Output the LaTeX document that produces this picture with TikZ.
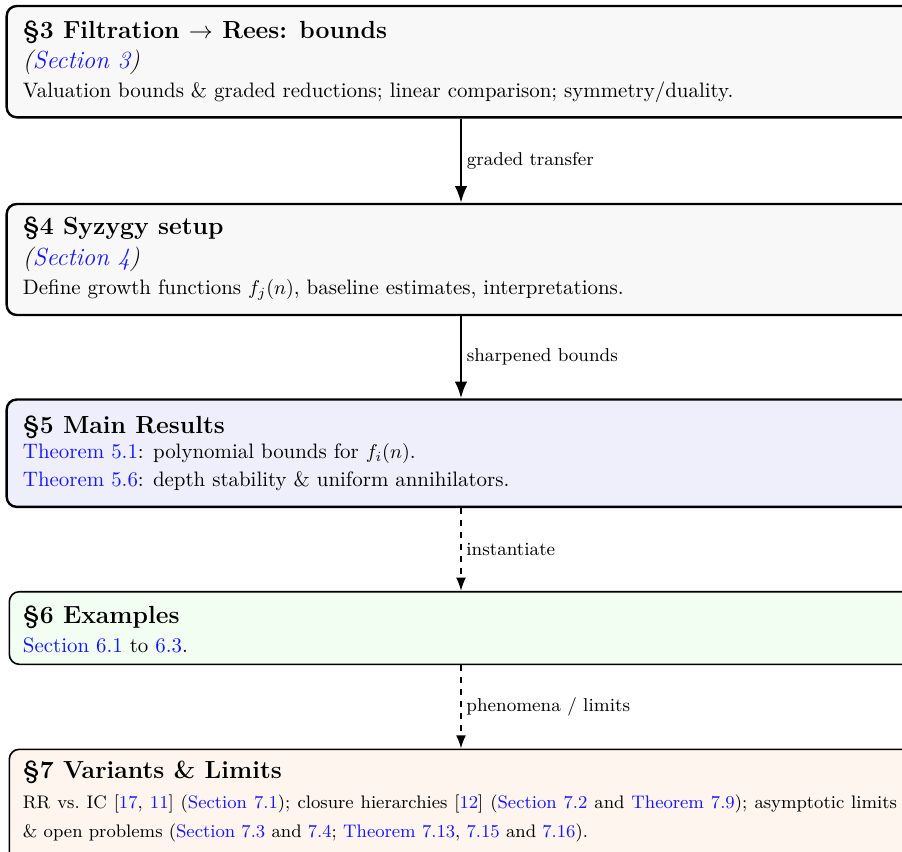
\documentclass[tikz,border=0pt]{standalone}
\usetikzlibrary{arrows.meta}
\definecolor{boxgray}{RGB}{248,248,248}
\definecolor{boxblue}{RGB}{239,239,252}
\definecolor{boxgreen}{RGB}{242,254,242}
\definecolor{boxorange}{RGB}{254,245,238}
\definecolor{linkblue}{RGB}{20,20,255}
\newcommand{\lk}[1]{\textcolor{linkblue}{#1}}
\newcommand{\ttlsize}{\fontsize{12.37pt}{15pt}\selectfont}
\newcommand{\bodysize}{\fontsize{10.45pt}{13pt}\selectfont}
\newcommand{\labsize}{\fontsize{9.3pt}{11pt}\selectfont}
\newcommand{\smallbody}{\fontsize{9.08pt}{11pt}\selectfont}
\begin{document}
\begin{tikzpicture}[x=0.5pt,y=-0.5pt,
  heavybox/.style={draw=black, line width=1.2pt, rounded corners=5pt, inner sep=0pt},
  lightbox/.style={draw=black, line width=0.8pt, rounded corners=5pt, inner sep=0pt},
  txt/.style={anchor=base west, inner sep=0pt, outer sep=0pt, font=\bodysize},
  ttl/.style={txt, font=\ttlsize\bfseries},
  sec/.style={txt, font=\ttlsize\itshape},
  solidarrow/.style={line width=1.2pt, -{Latex}},
  dasharrow/.style={line width=0.8pt, dashed, -{Latex}},
  lab/.style={font=\labsize, anchor=west, inner sep=2.3pt, midway}]
\useasboundingbox (0,0) rectangle (902,852);
% boxes
\node[heavybox, fill=boxgray, minimum width=454.3pt, minimum height=55.65pt] (b1) at (461,61.65) {};
\node[heavybox, fill=boxgray, minimum width=454.3pt, minimum height=55.5pt] (b2) at (461,259.5) {};
\node[heavybox, fill=boxblue, minimum width=454.3pt, minimum height=53.7pt] (b3) at (461,453.2) {};
\node[lightbox, fill=boxgreen, minimum width=451.7pt, minimum height=36.3pt] (b4) at (461,628) {};
\node[lightbox, fill=boxorange, minimum width=451.7pt, minimum height=57.85pt] (b5) at (461,807.15) {};
% box 1 text
\node[ttl] (t1a) at (23,38.5) {\S3 Filtration $\rightarrow$ Rees: bounds};
\node[sec] (t1b) at (23,68) {(\lk{Section 3})};
\node[txt] (t1c) at (23,97) {Valuation bounds \& graded reductions; linear comparison; symmetry/duality.};
% box 2 text
\node[ttl] (t2a) at (23,234.5) {\S4 Syzygy setup};
\node[sec] (t2b) at (23,265) {(\lk{Section 4})};
\node[txt] (t2c) at (23,294) {Define growth functions $f_j(n)$, baseline estimates, interpretations.};
% box 3 text
\node[ttl] (t3a) at (23,433.3) {\S5 Main Results};
\node[txt] (t3b) at (23,458.3) {\lk{Theorem 5.1}: polynomial bounds for $f_i(n)$.};
\node[txt] (t3c) at (23,486.7) {\lk{Theorem 5.6}: depth stability \& uniform annihilators.};
% box 4 text
\node[ttl] (t4a) at (23,623) {\S6 Examples};
\node[txt] (t4b) at (23,652) {\lk{Section 6.1} to \lk{6.3}.};
% box 5 text
\node[ttl] (t5a) at (23,778) {\S7 Variants \& Limits};
\node[txt, font=\smallbody] (t5b) at (23,808) {\makebox[437pt][s]{RR vs.\ IC [\lk{17}, \lk{11}] (\lk{Section 7.1}); closure hierarchies [\lk{12}] (\lk{Section 7.2} and \lk{Theorem 7.9}); asymptotic limits}};
\node[txt, font=\smallbody] (t5c) at (23,837) {\& open problems (\lk{Section 7.3} and \lk{7.4}; \lk{Theorem 7.13}, \lk{7.15} and \lk{7.16}).};
% connectors
\draw[solidarrow] (b1.south) -- node[lab]{graded transfer} (b2.north);
\draw[solidarrow] (b2.south) -- node[lab]{sharpened bounds} (b3.north);
\draw[dasharrow] (b3.south) -- node[lab]{instantiate} (b4.north);
\draw[dasharrow] (b4.south) -- node[lab]{phenomena / limits} (b5.north);
\end{tikzpicture}
\end{document}
